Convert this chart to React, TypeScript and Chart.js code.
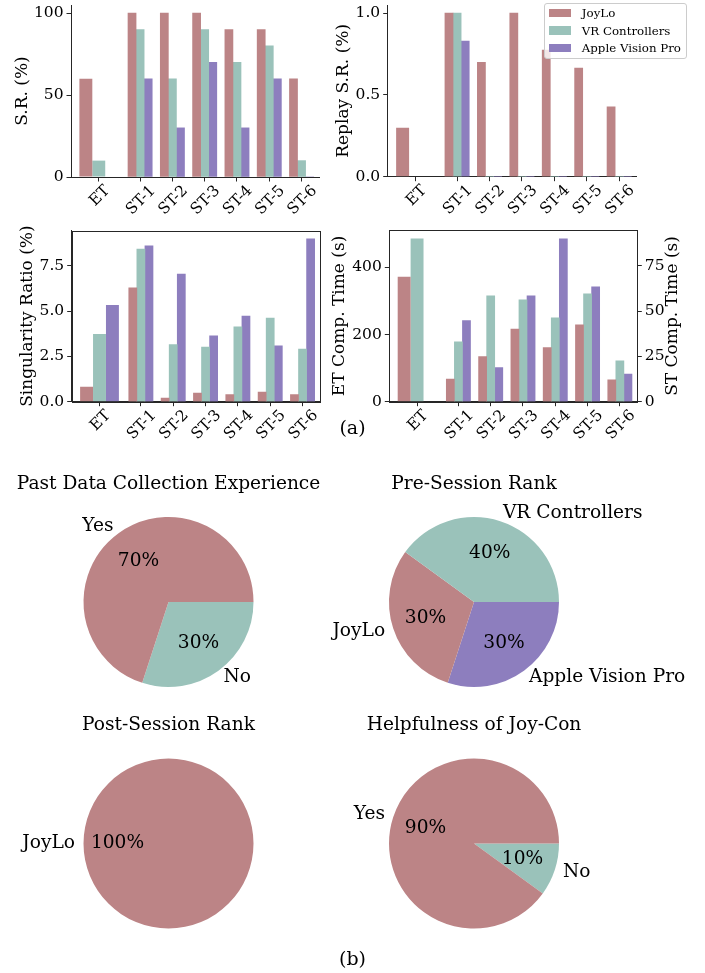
import React, { useEffect, useRef } from 'react';
import { Chart, registerables } from 'chart.js';

Chart.register(...registerables);

// ---------------- data ----------------
const groupLabels = ['ET', 'ST-1', 'ST-2', 'ST-3', 'ST-4', 'ST-5', 'ST-6'];
const seriesNames = ['JoyLo', 'VR Controllers', 'Apple Vision Pro'];

// success rate (%)
const srJoyLo = [60, 100, 100, 100, 90, 90, 60];
const srVR = [10, 90, 60, 90, 70, 80, 10];
const srAVP = [0, 60, 30, 70, 30, 60, 0];
const srTicks = [0, 50, 100];

// replay success rate
const replayJoyLo = [0.3, 1.0, 0.7, 1.0, 0.775, 0.665, 0.427];
const replayVR = [0, 1.0, 0, 0, 0, 0, 0];
const replayAVP = [0, 0.83, 0, 0, 0, 0, 0];
const replayTicks = [0, 0.5, 1.0];

// singularity ratio (%)
const singJoyLo = [0.83, 6.28, 0.2, 0.48, 0.39, 0.53, 0.39];
const singVR = [3.74, 8.43, 3.15, 3.02, 4.13, 4.62, 2.91];
const singAVP = [5.34, 8.6, 7.05, 3.63, 4.73, 3.08, 8.99];
const singTicks = [0, 2.5, 5, 7.5];

// completion time (s): ET (first value) on the left axis, ST on the right axis
const timeJoyLo = [372, 12.5, 24.9, 40.1, 29.8, 42.4, 12.0];
const timeVR = [486, 33.0, 58.4, 56.2, 46.2, 59.5, 22.5];
const timeAVP = [0, 44.7, 18.8, 58.4, 89.9, 63.4, 15.3];
const etTimeTicks = [0, 200, 400];
const stTimeTicks = [0, 25, 50, 75];

// questionnaire pies
const pastLabels = ['Yes', 'No'];
const pastValues = [70, 30];
const preLabels = ['VR Controllers', 'JoyLo', 'Apple Vision Pro'];
const preValues = [40, 30, 30];
const postLabels = ['JoyLo'];
const postValues = [100];
const helpLabels = ['Yes', 'No'];
const helpValues = [90, 10];

// ---------------- styles / layout ----------------
const FONT = "'DejaVu Serif', 'Liberation Serif', serif";
const PINK = 'rgb(188,132,134)';
const TEAL = 'rgb(154,194,186)';
const PURPLE = 'rgb(141,126,190)';
const SERIES_COLORS = [PINK, TEAL, PURPLE];
const PIE_COLORS: Record<string, string> = {
  JoyLo: PINK,
  'VR Controllers': TEAL,
  'Apple Vision Pro': PURPLE,
  Yes: PINK,
  No: TEAL,
};
const AXIS = '#262626';
const TICK_SIZE = 15.5;
const TITLE_SIZE = 17;
const PIE_TEXT = 18.6;

const ET_SHIFT = 0.28;
const ET_BAR = 0.4;
const ST_BAR = 0.25;
const X_MIN = -1.14;
const X_MAX = 6.54;
const groupCenter = (i: number) => (i === 0 ? -ET_SHIFT : i);

type Area = { l: number; t: number; r: number; b: number };
type BarCfg = {
  key: string;
  pos: { left: number; top: number; w: number; h: number };
  area: Area;
  series: number[][];
  yTicks: number[];
  yMax: number;
  decimals: number;
  yTitle: string;
  yTitleX: number;
  box: boolean;
  right?: { ticks: number[]; max: number; decimals: number; title: string; titleX: number };
};

const BAR_CHARTS: BarCfg[] = [
  {
    key: 'sr',
    pos: { left: 0, top: 0, w: 330, h: 225 },
    area: { l: 71, t: 5, r: 319, b: 177 },
    series: [srJoyLo, srVR, srAVP],
    yTicks: srTicks,
    yMax: 105,
    decimals: 0,
    yTitle: 'S.R. (%)',
    yTitleX: 22.5,
    box: false,
  },
  {
    key: 'replay',
    pos: { left: 325, top: 0, w: 380, h: 225 },
    area: { l: 62.7, t: 5, r: 311.7, b: 176.7 },
    series: [replayJoyLo, replayVR, replayAVP],
    yTicks: replayTicks,
    yMax: 1.05,
    decimals: 1,
    yTitle: 'Replay S.R. (%)',
    yTitleX: 19,
    box: false,
  },
  {
    key: 'sing',
    pos: { left: 0, top: 215, w: 330, h: 235 },
    area: { l: 71.7, t: 15.5, r: 320, b: 186.7 },
    series: [singJoyLo, singVR, singAVP],
    yTicks: singTicks,
    yMax: 9.45,
    decimals: 1,
    yTitle: 'Singularity Ratio (%)',
    yTitleX: 28,
    box: true,
  },
  {
    key: 'time',
    pos: { left: 325, top: 215, w: 380, h: 235 },
    area: { l: 64.3, t: 15.2, r: 312.3, b: 186.7 },
    series: [timeJoyLo, timeVR, timeAVP],
    yTicks: etTimeTicks,
    yMax: 511,
    decimals: 0,
    yTitle: 'ET Comp. Time (s)',
    yTitleX: 15,
    box: true,
    right: { ticks: stTimeTicks, max: 94.6, decimals: 0, title: 'ST Comp. Time (s)', titleX: 348 },
  },
];

type PieCfg = {
  key: string;
  title: string;
  labels: string[];
  values: number[];
  pos: { left: number; top: number; w: number; h: number };
  cx: number;
  cy: number;
};
const PIE_R = 85;
const PIE_CHARTS: PieCfg[] = [
  { key: 'past', title: 'Past Data Collection Experience', labels: pastLabels, values: pastValues, pos: { left: 0, top: 460, w: 345, h: 250 }, cx: 168.5, cy: 142 },
  { key: 'pre', title: 'Pre-Session Rank', labels: preLabels, values: preValues, pos: { left: 290, top: 460, w: 415, h: 250 }, cx: 184, cy: 142 },
  { key: 'post', title: 'Post-Session Rank', labels: postLabels, values: postValues, pos: { left: 0, top: 700, w: 345, h: 250 }, cx: 168.5, cy: 143.5 },
  { key: 'help', title: 'Helpfulness of Joy-Con', labels: helpLabels, values: helpValues, pos: { left: 290, top: 700, w: 415, h: 250 }, cx: 184, cy: 143.5 },
];

// ---------------- helpers ----------------
const zeroPad = (s: any) => {
  s.paddingLeft = 0;
  s.paddingRight = 0;
  s.paddingTop = 0;
  s.paddingBottom = 0;
};

function drawVertical(ctx: CanvasRenderingContext2D, text: string, x: number, y: number) {
  ctx.save();
  ctx.translate(x, y);
  ctx.rotate(-Math.PI / 2);
  ctx.textAlign = 'center';
  ctx.textBaseline = 'middle';
  ctx.fillText(text, 0, 0);
  ctx.restore();
}

function yAxis(ticks: number[], max: number, decimals: number, position: string, width: number) {
  return {
    type: 'linear',
    position,
    min: 0,
    max,
    afterBuildTicks: (s: any) => {
      s.ticks = ticks.map((v) => ({ value: v }));
    },
    afterFit: (s: any) => {
      s.width = width;
      zeroPad(s);
    },
    ticks: {
      font: { family: FONT, size: TICK_SIZE },
      color: '#000',
      padding: 3,
      callback: (v: any) => Number(v).toFixed(decimals),
    },
    grid: {
      display: true,
      drawOnChartArea: false,
      drawTicks: true,
      tickLength: 4.5,
      tickColor: AXIS,
      tickWidth: 1,
      lineWidth: 1,
      color: AXIS,
    },
    border: { display: true, color: AXIS, width: 1 },
    title: { display: false },
  };
}

function makeBarConfig(cfg: BarCfg): any {
  const { area, pos } = cfg;
  const datasets: any[] = [];
  cfg.series.forEach((vals, s) => {
    const color = SERIES_COLORS[s];
    datasets.push({
      label: seriesNames[s] + ' ET',
      data: [{ x: groupCenter(0) + (s - 1) * ET_BAR, y: vals[0] }],
      backgroundColor: color,
      borderWidth: 0,
      grouped: false,
      categoryPercentage: 1,
      barPercentage: ET_BAR / ST_BAR,
      yAxisID: 'y',
    });
    datasets.push({
      label: seriesNames[s],
      data: vals.slice(1).map((v, k) => ({ x: groupCenter(k + 1) + (s - 1) * ST_BAR, y: v })),
      backgroundColor: color,
      borderWidth: 0,
      grouped: false,
      categoryPercentage: 1,
      barPercentage: 1,
      yAxisID: cfg.right ? 'y1' : 'y',
    });
  });

  const scales: any = {
    x: {
      type: 'linear',
      min: X_MIN,
      max: X_MAX,
      offset: false,
      afterBuildTicks: (s: any) => {
        s.ticks = groupLabels.map((_, i) => ({ value: groupCenter(i) }));
      },
      afterFit: (s: any) => {
        s.height = pos.h - area.b;
        zeroPad(s);
      },
      ticks: { display: false },
      grid: {
        display: true,
        offset: false,
        drawOnChartArea: false,
        drawTicks: true,
        tickLength: 4.5,
        tickColor: AXIS,
        tickWidth: 1,
        lineWidth: 1,
        color: AXIS,
      },
      border: { display: true, color: AXIS, width: 1 },
    },
    y: yAxis(cfg.yTicks, cfg.yMax, cfg.decimals, 'left', area.l),
  };
  if (cfg.right) {
    scales.y1 = yAxis(cfg.right.ticks, cfg.right.max, cfg.right.decimals, 'right', pos.w - area.r);
  }

  const decor = {
    id: 'decor_' + cfg.key,
    afterDraw(chart: any) {
      const { ctx, chartArea: ca, scales: sc } = chart;
      ctx.save();
      if (cfg.box) {
        ctx.strokeStyle = AXIS;
        ctx.lineWidth = 1;
        const l = Math.round(ca.left) + 0.5;
        const t = Math.round(ca.top) + 0.5;
        const r = Math.round(ca.right) + 0.5;
        const b = Math.round(ca.bottom) + 0.5;
        ctx.strokeRect(l, t, r - l, b - t);
      }
      // rotated category labels (centered under ticks)
      ctx.fillStyle = '#000';
      ctx.font = `${TICK_SIZE}px ${FONT}`;
      const h = 1.164 * TICK_SIZE;
      groupLabels.forEach((lab, i) => {
        const x = sc.x.getPixelForValue(groupCenter(i));
        const w = ctx.measureText(lab).width;
        const S = (w + h) * Math.SQRT1_2;
        const cy = ca.bottom + 4 + S / 2;
        ctx.save();
        ctx.translate(x, cy);
        ctx.rotate(-Math.PI / 4);
        ctx.textAlign = 'center';
        ctx.textBaseline = 'alphabetic';
        ctx.fillText(lab, 0, 0.346 * TICK_SIZE);
        ctx.restore();
      });
      // axis titles
      ctx.font = `${TITLE_SIZE}px ${FONT}`;
      const midY = (ca.top + ca.bottom) / 2;
      drawVertical(ctx, cfg.yTitle, cfg.yTitleX, midY);
      if (cfg.right) drawVertical(ctx, cfg.right.title, cfg.right.titleX, midY);
      ctx.restore();
    },
  };

  return {
    type: 'bar',
    data: { datasets },
    options: {
      responsive: false,
      animation: false,
      devicePixelRatio: 1,
      layout: { padding: { left: 0, top: area.t, right: cfg.right ? 0 : pos.w - area.r, bottom: 0 } },
      plugins: { legend: { display: false }, tooltip: { enabled: false }, title: { display: false } },
      scales,
    },
    plugins: [decor],
  };
}

function makePieConfig(cfg: PieCfg): any {
  const { pos, cx, cy } = cfg;
  // matplotlib draws counter-clockwise from 3 o'clock; Chart.js draws clockwise,
  // so feed the slices in reverse order starting at 3 o'clock.
  const labels = [...cfg.labels].reverse();
  const values = [...cfg.values].reverse();
  const colors = labels.map((l) => PIE_COLORS[l]);
  const total = cfg.values.reduce((a, b) => a + b, 0);

  const decor = {
    id: 'pie_' + cfg.key,
    afterDraw(chart: any) {
      const { ctx } = chart;
      const meta = chart.getDatasetMeta(0);
      ctx.save();
      ctx.fillStyle = '#000';
      ctx.font = `${PIE_TEXT}px ${FONT}`;
      let centerX = 0;
      let centerY = 0;
      let R = 0;
      meta.data.forEach((el: any, i: number) => {
        const { startAngle, endAngle, outerRadius, x, y } = el.getProps(['startAngle', 'endAngle', 'outerRadius', 'x', 'y'], true);
        centerX = x;
        centerY = y;
        R = outerRadius;
        const mid = (startAngle + endAngle) / 2;
        const c = Math.cos(mid);
        const s = Math.sin(mid);
        // outer label
        ctx.textBaseline = 'middle';
        ctx.textAlign = c > 0 ? 'left' : 'right';
        ctx.fillText(labels[i], x + 1.1 * outerRadius * c, y + 1.1 * outerRadius * s);
        // percentage
        ctx.textAlign = 'center';
        const pct = Math.round((values[i] / total) * 100) + '%';
        ctx.fillText(pct, x + 0.6 * outerRadius * c, y + 0.6 * outerRadius * s);
      });
      ctx.textAlign = 'center';
      ctx.textBaseline = 'middle';
      ctx.fillText(cfg.title, centerX, centerY - R - 33);
      ctx.restore();
    },
  };

  return {
    type: 'pie',
    data: {
      labels,
      datasets: [{ data: values, backgroundColor: colors, borderWidth: 0, hoverOffset: 0 }],
    },
    options: {
      responsive: false,
      animation: false,
      devicePixelRatio: 1,
      rotation: 90,
      layout: {
        padding: { left: cx - PIE_R, top: cy - PIE_R, right: pos.w - cx - PIE_R, bottom: pos.h - cy - PIE_R },
      },
      plugins: { legend: { display: false }, tooltip: { enabled: false }, title: { display: false } },
    },
    plugins: [decor],
  };
}

// ---------------- components ----------------
function ChartCanvas({ pos, build }: { pos: { left: number; top: number; w: number; h: number }; build: () => any }) {
  const ref = useRef<HTMLCanvasElement>(null);
  useEffect(() => {
    if (!ref.current) return;
    const chart = new Chart(ref.current, build());
    return () => chart.destroy();
  }, []);
  return (
    <canvas
      ref={ref}
      width={pos.w}
      height={pos.h}
      style={{ position: 'absolute', left: pos.left, top: pos.top, width: pos.w, height: pos.h }}
    />
  );
}

function Legend() {
  const rows = [9.6, 27, 44.3];
  return (
    <div
      style={{
        position: 'absolute',
        left: 543.8,
        top: 2.5,
        width: 143,
        height: 56.5,
        boxSizing: 'border-box',
        border: '1px solid #cccccc',
        borderRadius: 3,
        background: 'rgba(255,255,255,0.8)',
        zIndex: 5,
        fontFamily: FONT,
        fontSize: 11.8,
        color: '#000',
      }}
    >
      {seriesNames.map((n, i) => (
        <React.Fragment key={n}>
          <div
            style={{
              position: 'absolute',
              left: 4,
              top: rows[i] - 4.3,
              width: 22.7,
              height: 8.6,
              background: SERIES_COLORS[i],
            }}
          />
          <div
            style={{
              position: 'absolute',
              left: 37,
              top: rows[i] - 8,
              height: 16,
              lineHeight: '16px',
              whiteSpace: 'nowrap',
            }}
          >
            {n}
          </div>
        </React.Fragment>
      ))}
    </div>
  );
}

export default function App() {
  return (
    <div
      style={{
        position: 'absolute',
        left: 0,
        top: 0,
        width: 705,
        height: 973,
        background: '#fff',
        overflow: 'hidden',
        fontFamily: FONT,
      }}
    >
      {BAR_CHARTS.map((c) => (
        <ChartCanvas key={c.key} pos={c.pos} build={() => makeBarConfig(c)} />
      ))}
      {PIE_CHARTS.map((c) => (
        <ChartCanvas key={c.key} pos={c.pos} build={() => makePieConfig(c)} />
      ))}
      <Legend />
      <div style={{ position: 'absolute', left: 0, width: 705, top: 416, lineHeight: '22px', textAlign: 'center', fontSize: 19 }}>
        (a)
      </div>
      <div style={{ position: 'absolute', left: 0, width: 705, top: 947, lineHeight: '22px', textAlign: 'center', fontSize: 19 }}>
        (b)
      </div>
    </div>
  );
}
